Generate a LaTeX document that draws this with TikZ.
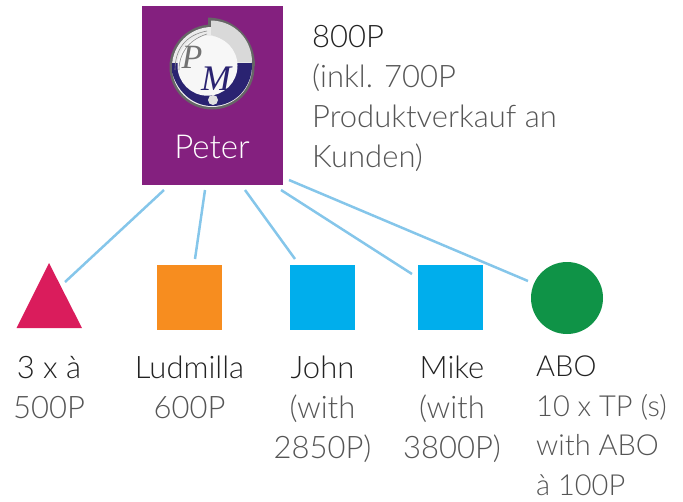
\documentclass[tikz,border=0pt]{standalone}
\usepackage{fontspec}
\setmainfont{Lato Light}
\newfontfamily\logofont{Liberation Serif}[Scale=1]
\definecolor{purp}{HTML}{84207F}
\definecolor{linkc}{HTML}{85C6EA}
\definecolor{redc}{HTML}{DA1C5C}
\definecolor{orangec}{HTML}{F78D1F}
\definecolor{bluec}{HTML}{00AEEC}
\definecolor{greenc}{HTML}{0F9347}
\definecolor{navyc}{HTML}{2A2371}
\definecolor{txt}{HTML}{222222}
\definecolor{txtl}{HTML}{555555}
\tikzset{
 link/.style={draw=linkc,line width=2.5pt},
 shapebox/.style={draw=none,minimum size=65pt,inner sep=0pt,outer sep=0pt},
 lab/.style={inner sep=0pt,font=\fontsize{31}{40}\selectfont,text=txtl,align=center,anchor=north},
 labl/.style={lab,align=left,anchor=north west},
}
\begin{document}
\begin{tikzpicture}[x=1pt,y=-1pt]
\useasboundingbox (0,0) rectangle (683,501);
\node[fill=purp,inner sep=0pt,outer sep=0pt,minimum width=141pt,minimum height=179pt] (peter) at (212.5,95.5) {};
% logo
\fill[black!60] (212,67) circle (42.5);
\fill[black!60] (208,17.5) .. controls (236,18) and (255,40) .. (255,66) -- (230,66) -- (208,40) -- cycle;
\fill[black!8] (212,67) circle (40);
\fill[navyc] (172,72) .. controls (178,94) and (195,106) .. (212,106) .. controls (236,106) and (253,86) .. (252,63) -- (172,63) -- cycle;
\fill[black!15] (211,20.5) .. controls (235,21) and (252,40) .. (252,62) -- (235,62) .. controls (233,50) and (224,38) .. (211,35) -- cycle;
\fill[black!3] (207.5,65.7) circle (30);
\draw[black!45,line width=.6pt] (175,70) .. controls (175,50) and (185,35) .. (207,31);
\draw[black!45,line width=.6pt] (179,70) .. controls (179,54) and (188,40) .. (207,34);
\node[inner sep=0pt,text=black!55,font=\logofont\itshape\fontsize{34}{34}\selectfont] (logop) at (192,57) {P};
\node[inner sep=0pt,text=navyc,font=\logofont\itshape\fontsize{36}{36}\selectfont] (logom) at (216,79) {M};
\fill[black!12] (213,100) circle (5);
\node[inner sep=0pt,text=white,font=\fontsize{33}{36}\selectfont] (petername) at (212,147) {Peter};
% shapes
\fill[redc] (49,263) -- (82,328) -- (16.5,328) -- cycle;
\node[shapebox,fill=orangec] (ludmilla) at (189.5,297.5) {};
\node[shapebox,fill=bluec] (john) at (322.5,297.5) {};
\node[shapebox,fill=bluec] (mike) at (450,297.5) {};
\node[circle,fill=greenc,minimum size=72pt,inner sep=0pt,outer sep=0pt] (abo) at (567,298) {};
% connector ends
\coordinate (a1) at (164,190); \coordinate (b1) at (65,282);
\coordinate (a2) at (205,190); \coordinate (b2) at (195,259);
\coordinate (a3) at (245,190); \coordinate (b3) at (295,259);
\coordinate (a4) at (281,190); \coordinate (b4) at (412,274);
\coordinate (a5) at (289,180); \coordinate (b5) at (528,281);
\draw[link] (a1) -- (b1);
\draw[link] (a2) -- (b2);
\draw[link] (a3) -- (b3);
\draw[link] (a4) -- (b4);
\draw[link] (a5) -- (b5);
% labels
\node[labl] (top) at (312,25) {\textcolor{txt}{800P}\\(inkl. 700P\\Produktverkauf an\\Kunden)};
\node[lab] (l1) at (49,356) {\textcolor{txt}{3 x à}\\500P};
\node[lab] (l2) at (189.5,356) {\textcolor{txt}{Ludmilla}\\600P};
\node[lab] (l3) at (322.5,356) {\textcolor{txt}{John}\\(with\\2850P)};
\node[lab] (l4) at (452,356) {\textcolor{txt}{Mike}\\(with\\3800P)};
\node[labl,font=\fontsize{29}{39.5}\selectfont] (l5) at (536,356) {\textcolor{txt}{ABO}\\10 x TP (s)\\with ABO\\à 100P};
\end{tikzpicture}
\end{document}
